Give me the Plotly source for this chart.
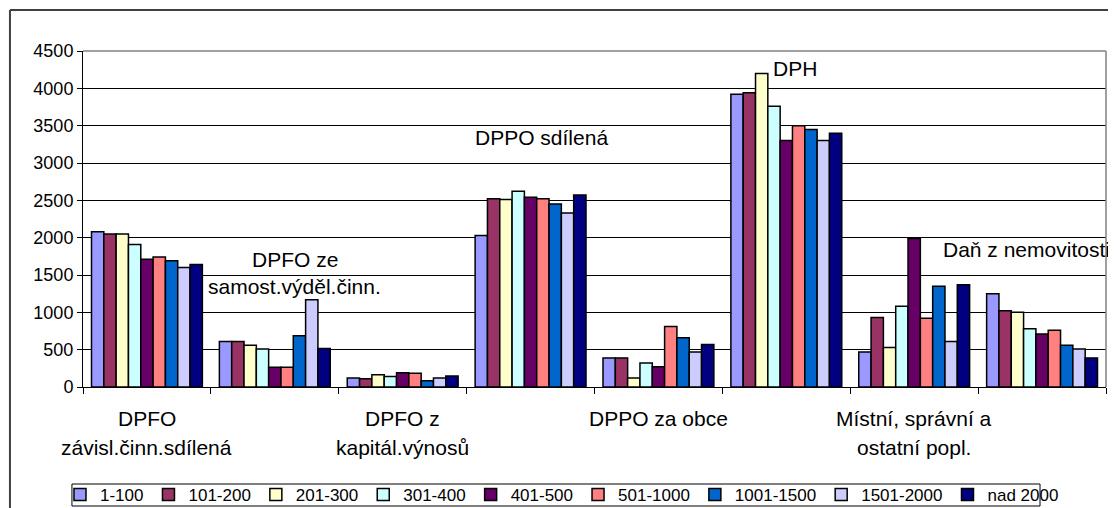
"""Grouped bar chart of tax revenue by municipality size."""
import plotly.graph_objects as go

categories = ['DPFO závisl.činn.sdílená', 'DPFO ze samost.výděl.činn.',
              'DPFO z kapitál.výnosů', 'DPPO sdílená', 'DPPO za obce',
              'DPH', 'Místní, správní a ostatní popl.', 'Daň z nemovitostí']
series_names = ['1-100', '101-200', '201-300', '301-400', '401-500',
                '501-1000', '1001-1500', '1501-2000', 'nad 2000']

s_1_100 = [2080, 610, 120, 2030, 390, 3920, 470, 1250]
s_101_200 = [2050, 610, 110, 2520, 390, 3940, 930, 1020]
s_201_300 = [2050, 560, 165, 2510, 120, 4200, 530, 1000]
s_301_400 = [1910, 510, 140, 2620, 320, 3760, 1080, 780]
s_401_500 = [1710, 265, 190, 2540, 270, 3300, 1990, 710]
s_501_1000 = [1740, 265, 185, 2520, 810, 3500, 920, 760]
s_1001_1500 = [1690, 685, 85, 2450, 660, 3450, 1350, 560]
s_1501_2000 = [1600, 1170, 120, 2330, 470, 3300, 610, 510]
s_nad_2000 = [1640, 515, 147, 2570, 570, 3400, 1370, 390]

values = [s_1_100, s_101_200, s_201_300, s_301_400, s_401_500,
          s_501_1000, s_1001_1500, s_1501_2000, s_nad_2000]
colors = ['#9999FF', '#993366', '#FFFFCC', '#CCFFFF', '#660066',
          '#FF8080', '#0066CC', '#CCCCFF', '#000080']

# labels under the axis (odd groups), the rest sit above the bars
bottom_labels = {0: ['DPFO', 'závisl.činn.sdílená'],
                 2: ['DPFO z', 'kapitál.výnosů'],
                 4: ['DPPO za obce'],
                 6: ['Místní, správní a', 'ostatní popl.']}

FONT = 'Liberation Sans, Arial, sans-serif'

fig = go.Figure()
for name, vals, col in zip(series_names, values, colors):
    fig.add_trace(go.Bar(
        x=categories, y=vals, name=name,
        marker=dict(color=col, line=dict(color='black', width=1.5))
    ))

# page body has an 8px margin, so the figure is 8px smaller each way
fig.update_layout(
    width=1108, height=500,
    margin=dict(t=43, l=75, r=10, b=121, autoexpand=False),
    paper_bgcolor='white', plot_bgcolor='white',
    barmode='group', bargap=0.133, bargroupgap=0,
    font=dict(family=FONT, size=18, color='black'),
    showlegend=True,
    legend=dict(orientation='h', x=-0.0225, y=-0.268, xanchor='left', yanchor='top',
                borderwidth=0, bgcolor='rgba(0,0,0,0)',
                font=dict(size=17), itemwidth=30, tracegroupgap=0),
)
fig.update_xaxes(type='category', range=[-0.5, 7.5], autorange=False,
                 showticklabels=False, ticks='outside',
                 tickson='boundaries', ticklen=6, tickcolor='black',
                 showline=True, linecolor='black', linewidth=1, showgrid=False)
fig.update_yaxes(range=[0, 4500], autorange=False, dtick=500, ticks='outside', ticklen=5,
                 tickcolor='black', showline=True, linecolor='black', linewidth=1,
                 showgrid=True, gridcolor='black', gridwidth=1, zeroline=False,
                 tickfont=dict(size=18))

# category labels below axis
for i, lines in bottom_labels.items():
    for j, txt in enumerate(lines):
        fig.add_annotation(x=categories[i], y=-0.0923 - j * 0.089, xref='x', yref='paper',
                           text=txt, showarrow=False, yanchor='middle',
                           font=dict(size=21))

# labels placed above the other groups
fig.add_annotation(x=categories[1], y=1710, text='DPFO ze', showarrow=False,
                   xshift=20, font=dict(size=21))
fig.add_annotation(x=categories[1], y=1349, text='samost.výděl.činn.', showarrow=False,
                   xshift=20, font=dict(size=21))
fig.add_annotation(x=categories[3], y=3344, text='DPPO sdílená', showarrow=False,
                   xshift=11, font=dict(size=21))
fig.add_annotation(x=categories[5], y=4268, text='DPH', showarrow=False,
                   xshift=9, font=dict(size=21))
fig.add_annotation(x=categories[7], y=1837, text='Daň z nemovitosti', showarrow=False,
                   xanchor='left', xshift=-101, font=dict(size=21))

# plot area border (top and right, grey), legend box and outer chart border
fig.add_shape(type='line', xref='paper', yref='paper', x0=0, x1=1, y0=1, y1=1,
              line=dict(color='#808080', width=1.5))
fig.add_shape(type='line', xref='paper', yref='paper', x0=1, x1=1, y0=0, y1=1,
              line=dict(color='#808080', width=1.5))
fig.add_shape(type='rect', xref='paper', yref='paper', x0=-0.0108, x1=0.9355,
              y0=-0.2887, y1=-0.3542, line=dict(color='black', width=1))
fig.add_shape(type='line', xref='paper', yref='paper', x0=-0.0714, x1=1.2, y0=1.122, y1=1.122,
              line=dict(color='#404040', width=2))
fig.add_shape(type='line', xref='paper', yref='paper', x0=-0.0714, x1=-0.0714, y0=1.122, y1=-0.5,
              line=dict(color='#404040', width=2))

fig.write_html("out.html")
